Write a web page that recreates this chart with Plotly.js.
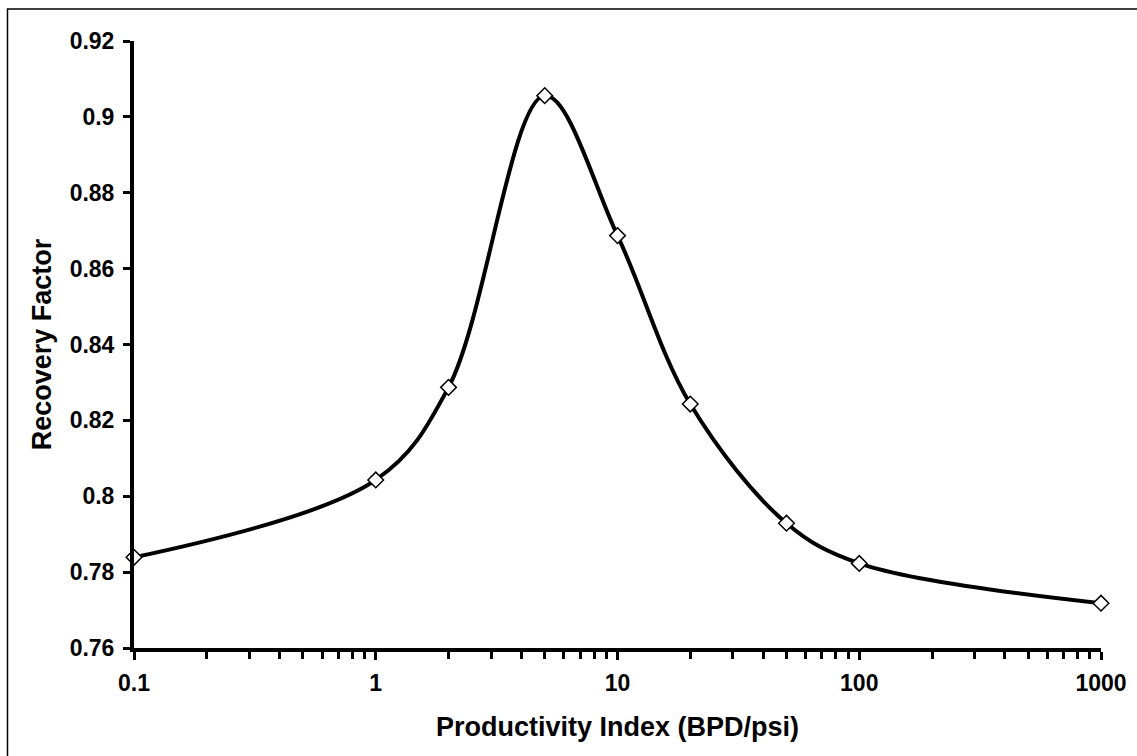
<!DOCTYPE html>
<html>
<head>
<meta charset="utf-8">
<script src="https://cdn.plot.ly/plotly-3.0.1.min.js"></script>
<style>
  html, body { margin: 0; padding: 0; background: #fff; }
  #chart { width: 1137px; height: 756px; }
</style>
</head>
<body>
<div id="chart"></div>
<script>
// Data
var productivityIndex = [0.1, 1, 2, 5, 10, 20, 50, 100, 1000];
var recoveryFactor = [0.7839, 0.8043, 0.8287, 0.9056, 0.8687, 0.8243, 0.7929, 0.7823, 0.7718];

// Tick labels
var xTickVals = [0.1, 1, 10, 100, 1000];
var xTickText = ["0.1", "1", "10", "100", "1000"];
var yTickVals = [0.76, 0.78, 0.80, 0.82, 0.84, 0.86, 0.88, 0.90, 0.92];
var yTickText = ["0.76", "0.78", "0.8", "0.82", "0.84", "0.86", "0.88", "0.9", "0.92"];

// minor log ticks (2..9 within each decade)
var xMinorVals = [];
[0.1, 1, 10, 100].forEach(function (d) {
  for (var k = 2; k <= 9; k++) xMinorVals.push(d * k);
});

var FONT = "Liberation Sans, Arial, sans-serif";

var trace = {
  x: productivityIndex,
  y: recoveryFactor,
  type: "scatter",
  mode: "lines+markers",
  line: { color: "#000000", width: 4, shape: "spline", smoothing: 1 },
  marker: { symbol: "diamond", size: 12, color: "#ffffff", line: { color: "#000000", width: 1.5 } },
  cliponaxis: false,
  hoverinfo: "x+y"
};

var L = 134, R = 36, T = 41, B = 108;
var W = 1137, H = 756;
var pw = W - L - R, ph = H - T - B;
function px2x(p) { return (p - L) / pw; }
function px2y(p) { return (H - B - p) / ph; }

var layout = {
  width: W,
  height: H,
  margin: { l: L, r: R, t: T, b: B, pad: 0 },
  paper_bgcolor: "#ffffff",
  plot_bgcolor: "#ffffff",
  showlegend: false,
  font: { family: FONT, color: "#000000", size: 22 },
  xaxis: {
    type: "log",
    range: [-1, 3],
    tickmode: "array",
    tickvals: xTickVals,
    ticktext: xTickText,
    ticks: "outside",
    ticklen: 8,
    tickwidth: 3,
    tickcolor: "#000",
    showline: true,
    linecolor: "#000",
    linewidth: 4,
    showgrid: false,
    zeroline: false,
    tickfont: { family: FONT, size: 23, weight: "bold", color: "#000" },
    ticklabelstandoff: 3,
    minor: { tickmode: "array", tickvals: xMinorVals, ticks: "outside", ticklen: 7, tickwidth: 3, tickcolor: "#000", showgrid: false },
    title: { text: "<b>Productivity Index (BPD/psi)</b>", font: { family: FONT, size: 27, color: "#000" }, standoff: 24 }
  },
  yaxis: {
    range: [0.76, 0.92],
    tickmode: "array",
    tickvals: yTickVals,
    ticktext: yTickText,
    ticks: "outside",
    ticklen: 7,
    tickwidth: 3,
    tickcolor: "#000",
    showline: true,
    linecolor: "#000",
    linewidth: 4,
    showgrid: false,
    zeroline: false,
    tickfont: { family: FONT, size: 23, weight: "bold", color: "#000" },
    ticklabelstandoff: 4,
    title: { text: "<b>Recovery Factor</b>", font: { family: FONT, size: 27, color: "#000" }, standoff: 11 }
  },
  shapes: [
    { type: "rect", xref: "paper", yref: "paper",
      x0: px2x(7.5), x1: px2x(1145), y0: px2y(765), y1: px2y(9),
      line: { color: "#000", width: 1.5 }, fillcolor: "rgba(0,0,0,0)", layer: "below" }
  ]
};

Plotly.newPlot("chart", [trace], layout, { displayModeBar: false, staticPlot: true });
</script>
</body>
</html>
